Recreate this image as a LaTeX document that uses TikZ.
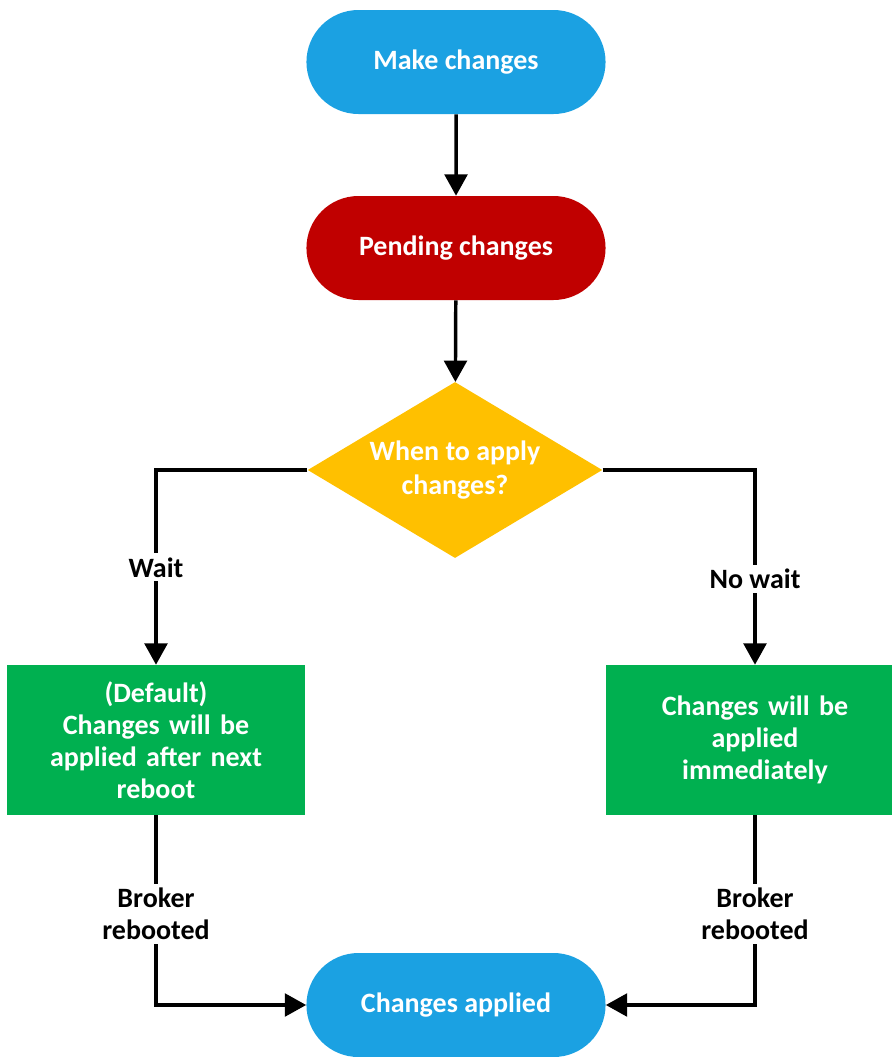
\documentclass[tikz,border=0pt]{standalone}
\usepackage{fontspec}
\setmainfont{Carlito}
\usetikzlibrary{shapes.geometric,shapes.misc,arrows.meta}
\definecolor{termblue}{HTML}{1BA1E2}
\definecolor{pendred}{HTML}{C00000}
\definecolor{askyellow}{HTML}{FFC000}
\definecolor{okgreen}{HTML}{00B050}

\begin{document}
\begin{tikzpicture}[x=0.75pt,y=-0.75pt,
    every node/.style={font=\bfseries\fontsize{21}{24}\selectfont, align=center},
    term/.style={rounded rectangle, fill=#1, text=white, minimum width=231pt, minimum height=78pt},
    ask/.style={diamond, fill=askyellow, text=white, inner sep=0pt, aspect=1.67,
        minimum width=221pt, minimum height=132pt, font=\bfseries\fontsize{21}{25.5}\selectfont},
    stepbox/.style={rectangle, fill=okgreen, text=white, minimum width=223.5pt,
        minimum height=112.5pt, text width=205pt},
    line/.style={line width=2.6pt, -{Triangle[width=17pt,length=16pt]}},
    lbl/.style={fill=white, inner sep=3pt}]
    \useasboundingbox (0,0) rectangle (892,1057);

    \node[term=termblue] (make) at (456,62) {Make changes};
    \node[term=pendred] (pending) at (456,248) {Pending changes};
    \node[ask] (when) at (455,470) {When to apply\\changes?};
    \node[stepbox] (later) at (156,740) {(Default)\\Changes will be\\applied after next\\reboot};
    \node[stepbox] (now) at (755,740) {Changes will be\\applied\\immediately};
    \node[term=termblue] (applied) at (456,1005) {Changes applied};

    \draw[line] (make) -- (pending);
    \draw[line] (pending) -- (when);
    \draw[line] (when.west) -| node[lbl, pos=0.75] {Wait} (later.north);
    \draw[line] (when.east) -| node[lbl, pos=0.78] {No wait} (now.north);
    \draw[line] (later.south) |- node[lbl, pos=0.26] {Broker\\rebooted} (applied.west);
    \draw[line] (now.south) |- node[lbl, pos=0.26] {Broker\\rebooted} (applied.east);
\end{tikzpicture}
\end{document}
